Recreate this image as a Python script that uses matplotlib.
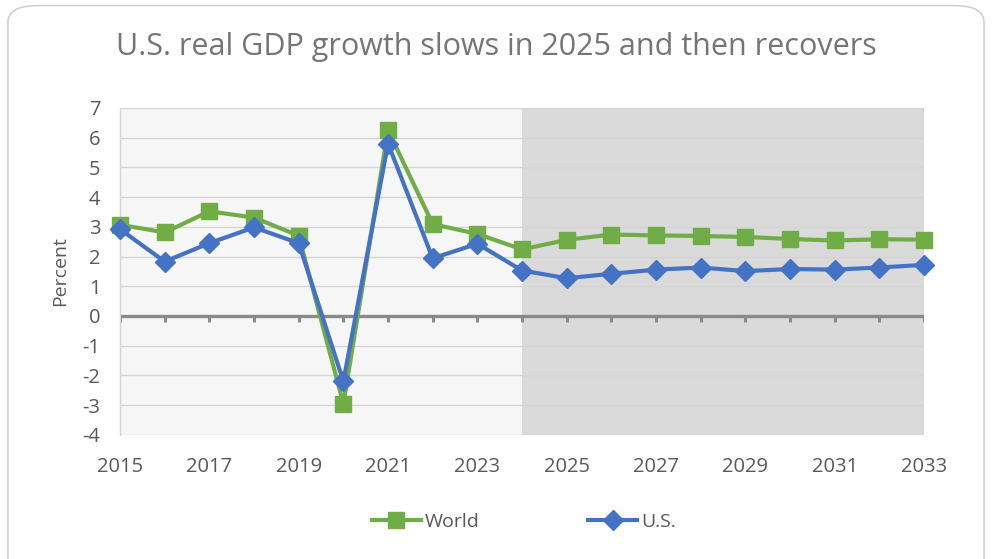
import matplotlib
matplotlib.use("Agg")
import matplotlib.pyplot as plt
from matplotlib.patches import FancyBboxPatch
from matplotlib.lines import Line2D

years = list(range(2015, 2034))
world = [3.07, 2.81, 3.52, 3.31, 2.70, -2.95, 6.25, 3.09, 2.76, 2.24,
         2.56, 2.74, 2.71, 2.69, 2.66, 2.59, 2.54, 2.58, 2.57]
us = [2.92, 1.83, 2.45, 2.98, 2.45, -2.2, 5.8, 1.94, 2.43, 1.53,
      1.27, 1.42, 1.56, 1.63, 1.51, 1.58, 1.56, 1.63, 1.72]
forecast_start = 2024
yticks = list(range(-4, 8))
xtick_labels = [str(y) for y in range(2015, 2034, 2)]

title = "U.S. real GDP growth slows in 2025 and then recovers"
ylabel = "Percent"

green = "#70ad47"
blue = "#4472c4"
text_gray = "#595959"

plt.rcParams["font.family"] = ["Open Sans", "DejaVu Sans"]

fig = plt.figure(figsize=(9.92, 5.59), dpi=100)
fig.patch.set_facecolor("white")

# rounded chart frame
frame = FancyBboxPatch((0.008, -0.05), 0.984, 1.04,
                       boxstyle="round,pad=0,rounding_size=0.03",
                       transform=fig.transFigure, facecolor="white",
                       edgecolor="#d0d0d0", linewidth=1.2, zorder=-5)
fig.patches.append(frame)

ax = fig.add_axes([0.121, 0.222, 0.8105, 0.585])
ax.set_zorder(1)
ax.set_facecolor("#f6f6f6")
ax.set_xlim(years[0], years[-1])
ax.set_ylim(-4, 7)

# shaded forecast region
ax.axvspan(forecast_start, years[-1], color="#dadada", zorder=0.5, lw=0)

for y in yticks:
    ax.axhline(y, color="#d4d4d4", lw=1.0, zorder=1)

# zero line with tick marks
ax.axhline(0, color="#8a8a8a", lw=2.4, zorder=2)
ax.vlines(years, 0, -0.2, color="#8a8a8a", lw=2.2, zorder=2)

ax.plot(years, world, color=green, lw=3, marker="s", markersize=11,
        zorder=3, solid_capstyle="round", clip_on=False)
ax.plot(years, us, color=blue, lw=3, marker="D", markersize=10,
        zorder=4, solid_capstyle="round", clip_on=False)

for s in ["top", "right", "bottom"]:
    ax.spines[s].set_visible(False)
ax.spines["left"].set_color("#d4d4d4")
ax.spines["left"].set_linewidth(1.0)

ax.set_yticks(yticks)
ax.set_yticklabels([str(v) for v in yticks])
ax.set_xticks(list(range(2015, 2034, 2)))
ax.set_xticklabels(xtick_labels)
ax.tick_params(axis="both", length=0, labelsize=14.5, colors=text_gray)
ax.tick_params(axis="x", pad=16)
ax.tick_params(axis="y", pad=14)

ax.set_ylabel(ylabel, fontsize=14, color=text_gray, labelpad=10)

fig.text(0.5, 0.916, title, ha="center", va="center", fontsize=22,
         color="#757575")

handles = [
    Line2D([], [], color=green, lw=3, marker="s", markersize=11),
    Line2D([], [], color=blue, lw=3, marker="D", markersize=10),
]
fig.legend(handles, ["World", "U.S."], loc="center", bbox_to_anchor=(0.528, 0.066),
           ncol=2, frameon=False, fontsize=14, labelcolor=text_gray,
           handlelength=2.5, handletextpad=0.2, columnspacing=5.6)

fig.savefig("out.png", dpi=100, facecolor="white")
